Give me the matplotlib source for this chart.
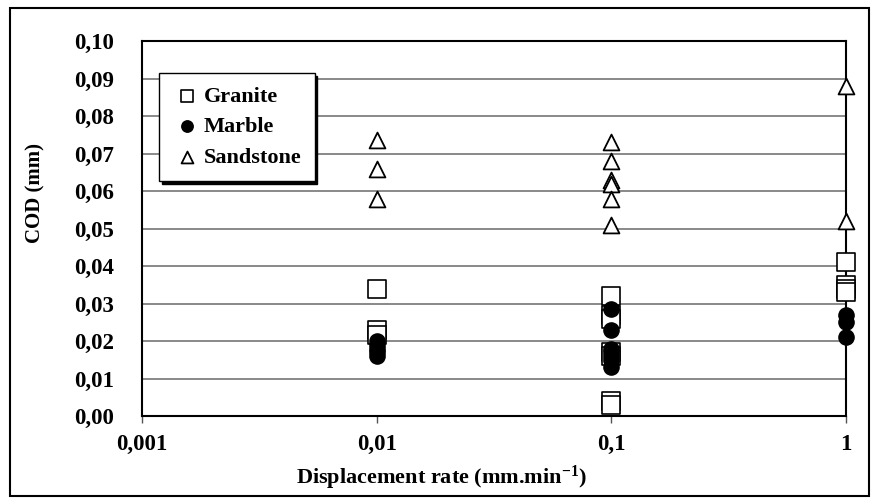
import matplotlib
matplotlib.use('Agg')
import matplotlib.pyplot as plt
from matplotlib.patches import Rectangle
from matplotlib.ticker import FixedLocator, FixedFormatter, NullLocator

plt.rcParams['font.family'] = ['Liberation Serif', 'DejaVu Serif']
plt.rcParams['font.weight'] = 'bold'
plt.rcParams['mathtext.fontset'] = 'custom'
plt.rcParams['mathtext.bf'] = 'Liberation Serif:bold'
plt.rcParams['mathtext.rm'] = 'Liberation Serif:bold'
plt.rcParams['mathtext.default'] = 'bf'

# --- data (displacement rate, COD)
granite_x = [0.01, 0.01, 0.01,
             0.1, 0.1, 0.1, 0.1, 0.1, 0.1, 0.1,
             1, 1, 1, 1]
granite_y = [0.034, 0.023, 0.0215,
             0.032, 0.027, 0.026, 0.017, 0.016, 0.004, 0.003,
             0.041, 0.035, 0.034, 0.033]

marble_x = [0.01, 0.01, 0.01, 0.01, 0.01,
            0.1, 0.1, 0.1, 0.1, 0.1, 0.1, 0.1,
            1, 1, 1]
marble_y = [0.020, 0.019, 0.018, 0.017, 0.016,
            0.0285, 0.023, 0.018, 0.017, 0.016, 0.015, 0.013,
            0.027, 0.025, 0.021]

sandstone_x = [0.01, 0.01, 0.01,
               0.1, 0.1, 0.1, 0.1, 0.1, 0.1,
               1, 1]
sandstone_y = [0.0735, 0.066, 0.058,
               0.073, 0.068, 0.063, 0.062, 0.058, 0.051,
               0.088, 0.052]

x_ticks = [0.001, 0.01, 0.1, 1]
x_tick_labels = ['0,001', '0,01', '0,1', '1']
y_ticks = [0.00, 0.01, 0.02, 0.03, 0.04, 0.05, 0.06, 0.07, 0.08, 0.09, 0.10]
y_tick_labels = ['0,00', '0,01', '0,02', '0,03', '0,04', '0,05',
                 '0,06', '0,07', '0,08', '0,09', '0,10']

fig = plt.figure(figsize=(8.72, 5.0), dpi=100)
ax = fig.add_axes([0.163, 0.168, 0.807, 0.750])

# outer frame round the whole chart
fig.patches.append(Rectangle((0.012, 0.008), 0.985, 0.976, transform=fig.transFigure,
                             fill=False, edgecolor='black', linewidth=1.5))

ax.scatter(granite_x, granite_y, marker='s', s=150, facecolors='white',
           edgecolors='black', linewidths=1.2, label='Granite', zorder=3, clip_on=False)
ax.scatter(marble_x, marble_y, marker='o', s=120, facecolors='black',
           edgecolors='black', linewidths=1.0, label='Marble', zorder=4, clip_on=False)
ax.scatter(sandstone_x, sandstone_y, marker='^', s=130, facecolors='white',
           edgecolors='black', linewidths=1.3, label='Sandstone', zorder=3, clip_on=False)

ax.set_xscale('log')
ax.set_xlim(0.001, 1)
ax.set_ylim(0, 0.10)

ax.xaxis.set_major_locator(FixedLocator(x_ticks))
ax.xaxis.set_major_formatter(FixedFormatter(x_tick_labels))
ax.xaxis.set_minor_locator(NullLocator())
ax.set_yticks(y_ticks)
ax.set_yticklabels(y_tick_labels)

ax.tick_params(axis='x', direction='out', length=5, width=1, color='#555555',
               labelsize=16.5, pad=8)
ax.tick_params(axis='y', length=0, labelsize=16.5, pad=20)

ax.yaxis.grid(True, color='#808080', linewidth=1.3)
ax.set_axisbelow(True)
for side in ['left', 'bottom', 'top', 'right']:
    ax.spines[side].set_linewidth(1.5)
    ax.spines[side].set_color('black')

ax.set_xlabel('Displacement rate (mm.min$^{-1}$)', fontsize=16, fontweight='bold')
ax.set_ylabel('COD (mm)', fontsize=15, fontweight='bold')
# labels sit off-centre in the original
ax.xaxis.set_label_coords(0.426, -0.128)
ax.yaxis.set_label_coords(-0.137, 0.595)

leg = ax.legend(loc='upper left', bbox_to_anchor=(0.024, 0.915), frameon=True,
                fancybox=False, shadow={'color': 'black', 'alpha': 1.0}, edgecolor='black',
                prop={'size': 16, 'weight': 'bold'}, markerscale=0.75,
                handletextpad=0.1, handlelength=1.3, labelspacing=0.45,
                borderpad=0.6, borderaxespad=0)
leg.get_frame().set_linewidth(1.0)
leg.set_zorder(10)

plt.savefig('out.png', dpi=100)
